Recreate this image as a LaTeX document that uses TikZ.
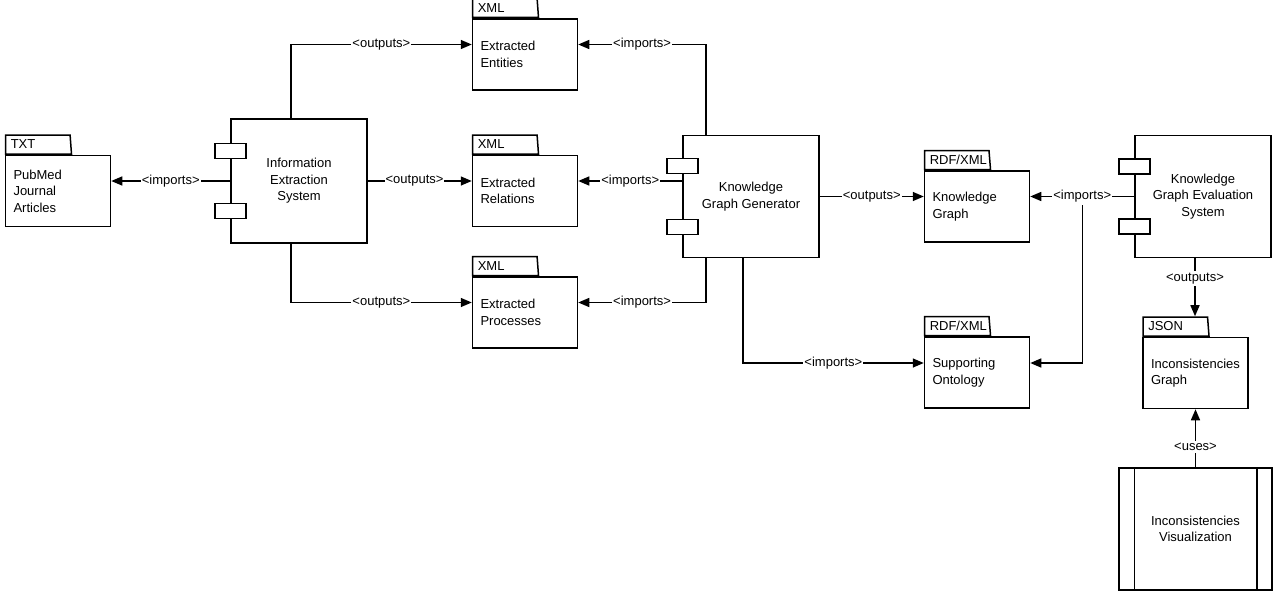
\documentclass[tikz,border=0pt]{standalone}
\usepackage{fontspec}
\setmainfont{Liberation Sans}
\usetikzlibrary{shapes.geometric,arrows.meta}

\begin{document}
\begin{tikzpicture}[x=1pt, y=-1pt, line width=1.5pt,
  >={Triangle[length=11pt,width=9pt]},
  font=\fontsize{13}{16.5}\selectfont,
  pkg/.style={rectangle, draw=black, minimum width=105pt, minimum height=71pt, inner xsep=8pt, text width=89pt, align=left},
  tab/.style={trapezium, trapezium left angle=90, trapezium right angle=81, trapezium stretches body, draw=black, anchor=bottom left corner, minimum width=66pt, minimum height=19pt, inner xsep=5pt, inner ysep=0pt, text width=54pt, align=left},
  comp/.style={rectangle, draw=black, minimum width=136pt, minimum height=122pt, align=center},
  port/.style={rectangle, draw=black, fill=white, minimum width=31pt, minimum height=15pt, inner sep=0pt},
  lbl/.style={fill=white, inner xsep=1pt, inner ysep=2pt}]
  	\useasboundingbox (0,0) rectangle (1277,594);
  	
  	% packages
  	\node[pkg] (pubmed) at (58,191) {PubMed\\Journal\\Articles};
  	\node[tab] (pubmedtab) at (pubmed.north west) {TXT};
  	\node[pkg] (ent) at (525,54.5) {Extracted\\Entities};
  	\node[tab] (enttab) at (ent.north west) {XML};
  	\node[pkg] (rel) at (525,191) {Extracted\\Relations};
  	\node[tab] (reltab) at (rel.north west) {XML};
  	\node[pkg] (proc) at (525,312.5) {Extracted\\Processes};
  	\node[tab] (proctab) at (proc.north west) {XML};
  	\node[pkg] (kg) at (977,206.5) {Knowledge\\Graph};
  	\node[tab] (kgtab) at (kg.north west) {RDF/XML};
  	\node[pkg] (so) at (977,372.5) {Supporting\\Ontology};
  	\node[tab] (sotab) at (so.north west) {RDF/XML};
  	\node[pkg] (json) at (1195.5,373) {Inconsistencies\\Graph};
  	\node[tab] (jsontab) at (json.north west) {JSON};
  	
  	% components
  	\node[comp, minimum height=124pt] (ies) at (299,181) {Information\\Extraction\\System};
  	\node[comp] (kgg) at (751,196.5) {Knowledge\\Graph Generator};
  	\node[comp] (kges) at (1203,196.5) {Knowledge\\Graph Evaluation\\System};
  	\node[comp, minimum width=153pt] (iv) at (1195.5,529) {Inconsistencies\\Visualization};
  	\draw ([xshift=16pt]iv.north west) -- ([xshift=16pt]iv.south west);
  	\draw ([xshift=-16pt]iv.north east) -- ([xshift=-16pt]iv.south east);
  	
  	% connectors
  	\draw[->] (ies.west) -- node[lbl] {<imports>} (ies.west -| pubmed.east);
  	\draw[->] ([xshift=-8pt]ies.north) |- node[lbl, pos=0.75] {<outputs>} ([yshift=10pt]ent.west);
  	\draw[->] (ies.east) -- node[lbl, pos=0.45] {<outputs>} (ies.east -| rel.west);
  	\draw[->] ([xshift=-8pt]ies.south) |- node[lbl, pos=0.75] {<outputs>} ([yshift=10pt]proc.west);
  	
  	\draw[->] ([xshift=-45pt]kgg.north) |- node[lbl, pos=0.75] {<imports>} ([yshift=10pt]ent.east);
  	\draw[->] ([yshift=15.5pt]kgg.west) -- node[lbl] {<imports>} ([yshift=15.5pt]kgg.west -| rel.east);
  	\draw[->] ([xshift=-45pt]kgg.south) |- node[lbl, pos=0.75] {<imports>} ([yshift=10pt]proc.east);
  	\draw[->] ([xshift=-8pt]kgg.south) |- node[lbl, pos=0.75] {<imports>} ([yshift=9.5pt]so.west);
  	\draw[->] (kgg.east) -- node[lbl] {<outputs>} (kgg.east -| kg.west);
  	
  	\path (kges.west) -- (kges.west -| kg.east) coordinate[pos=0.5] (split);
  	\draw[->] (split) |- ([yshift=9.5pt]so.east);
  	\draw[->] (kges.west) -- node[lbl] {<imports>} (kges.west -| kg.east);
  	\draw[->] ([xshift=-8pt]kges.south) -- node[lbl, pos=0.35] {<outputs>} ([xshift=-8pt]kges.south |- jsontab.north);
  	\draw[->] (iv.north) -- node[lbl, pos=0.35] {<uses>} (json.south);
  	
  	% ports
  	\node[port] (iesp1) at ([yshift=30pt]ies.west) {};
  	\node[port] (iesp2) at ([yshift=-30pt]ies.west) {};
  	\node[port] (kggp1) at ([yshift=30.5pt]kgg.west) {};
  	\node[port] (kggp2) at ([yshift=-30.5pt]kgg.west) {};
  	\node[port] (kgesp1) at ([yshift=30pt]kges.west) {};
  	\node[port] (kgesp2) at ([yshift=-30pt]kges.west) {};
\end{tikzpicture}
\end{document}
